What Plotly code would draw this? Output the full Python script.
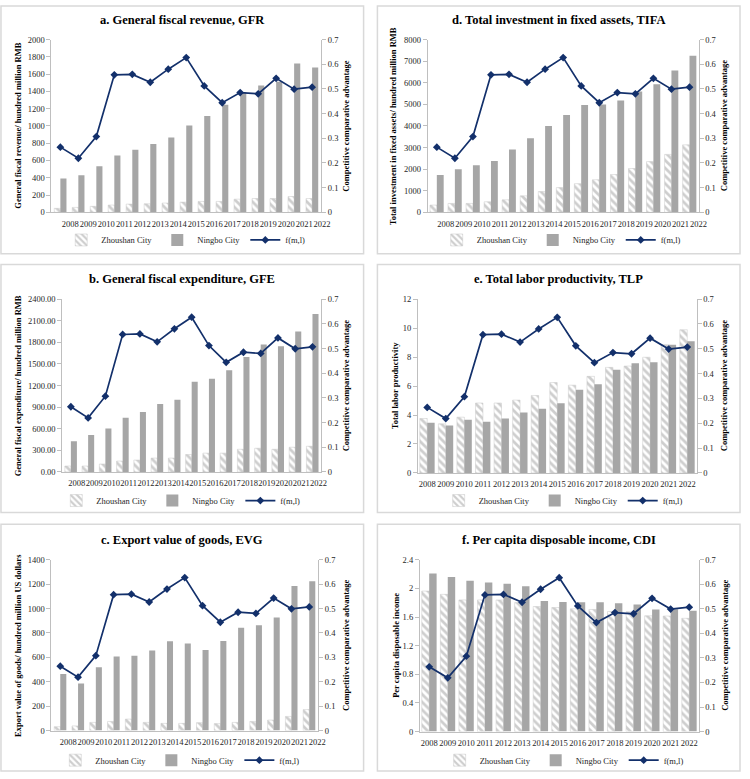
import plotly.graph_objects as go

W, H = 750, 779

years = [str(y) for y in range(2008, 2023)]
f_ml = [0.264, 0.219, 0.307, 0.557, 0.559, 0.527, 0.580, 0.627, 0.512, 0.444, 0.485, 0.480, 0.543, 0.499, 0.507]

gfr_zs = [46, 57, 69, 84, 95, 99, 107, 118, 126, 126, 152, 160, 160, 183, 160]
gfr_nb = [392, 430, 533, 659, 724, 792, 865, 1006, 1116, 1246, 1390, 1467, 1512, 1722, 1676]

gfe_zs = [82, 82, 110, 151, 165, 192, 192, 242, 261, 261, 315, 329, 315, 343, 357]
gfe_nb = [425, 512, 603, 754, 832, 942, 1001, 1253, 1294, 1413, 1595, 1769, 1746, 1952, 2194]

evg_zs = [32, 38, 67, 75, 94, 67, 59, 59, 65, 57, 67, 75, 86, 116, 172]
evg_nb = [463, 385, 520, 608, 614, 657, 732, 714, 660, 735, 843, 864, 926, 1185, 1225]

tifa_zs = [335, 411, 411, 488, 579, 762, 960, 1143, 1326, 1509, 1752, 2027, 2347, 2682, 3124]
tifa_nb = [1722, 1996, 2179, 2377, 2910, 3429, 3992, 4510, 4968, 4998, 5181, 5592, 5928, 6568, 7253]

tlp_zs = [3.76, 3.39, 3.85, 4.83, 4.83, 5.03, 5.35, 6.24, 6.06, 6.67, 7.29, 7.38, 7.99, 8.86, 9.89]
tlp_nb = [3.46, 3.28, 3.67, 3.53, 3.76, 4.17, 4.44, 4.81, 5.74, 6.13, 7.13, 7.58, 7.65, 8.86, 9.09]

cdi_zs = [1.963, 1.917, 1.839, 1.839, 1.839, 1.802, 1.747, 1.733, 1.715, 1.706, 1.678, 1.674, 1.618, 1.614, 1.582]
cdi_nb = [2.207, 2.161, 2.106, 2.083, 2.064, 2.032, 1.825, 1.811, 1.807, 1.807, 1.793, 1.775, 1.706, 1.710, 1.687]

titles = [
    "a. General fiscal revenue, GFR",
    "b. General fiscal expenditure, GFE",
    "c. Export value of goods, EVG",
    "d. Total investment in fixed assets, TIFA",
    "e. Total labor productivity, TLP",
    "f. Per capita disposable income, CDI",
]
left_titles = [
    "General fiscal revenue/ hundred million RMB",
    "General fiscal expenditure/ hundred million RMB",
    "Export value of goods/ hundred million US dollars",
    "Total investment in fixed assets/ hundred million RMB",
    "Total labor productivity",
    "Per capita disposable income",
]
right_title = "Competitive comparative advantage"
series = [(gfr_zs, gfr_nb), (gfe_zs, gfe_nb), (evg_zs, evg_nb),
          (tifa_zs, tifa_nb), (tlp_zs, tlp_nb), (cdi_zs, cdi_nb)]
y_ranges = [(2000, 200, ""), (2400, 300, ".2f"), (1400, 200, ""),
            (8000, 1000, ""), (12, 2, ""), (2.4, 0.4, "")]

# layout geometry (pixels)
plot_px = [  # x0, x1, y0(top), y1(bottom)
    (52, 325, 35, 210),
    (63, 325, 298, 473),
    (52, 322, 562, 735),
    (433, 707, 35, 210),
    (423, 705, 298, 474),
    (425, 707, 562, 736),
]
boxes = [(1, 368, 1, 252), (1, 368, 263, 514), (1, 368, 526, 776),
         (382, 749, 1, 252), (382, 749, 263, 514), (382, 749, 526, 776)]
title_y = [15, 278, 542, 15, 278, 542]
left_title_x = [18, 18, 18, 398, 400, 400]
right_title_x = [350, 350, 350, 733, 733, 733]
legend_pos = [(188, 238), (183, 502), (182, 765), (568, 238), (570, 502), (571, 765)]
label_shift = [10, 6, 8, 9, 0, 0]
bar_w = [0.34, 0.35, 0.34, 0.38, 0.4, 0.4]

FONT = "Liberation Serif, Times New Roman, serif"
AX_COL = "#bfbfbf"
TXT = "#262626"
LINE_COL = "#13306b"

fig = go.Figure()
layout = dict(
    width=W, height=H, margin=dict(l=0, r=0, t=0, b=0),
    paper_bgcolor="white", plot_bgcolor="rgba(0,0,0,0)",
    font=dict(family=FONT, size=9, color=TXT),
    barmode="overlay", showlegend=True,
)
shapes, annotations = [], []

for i in range(6):
    n = i + 1
    xa = "x" if n == 1 else f"x{n}"
    yl_idx, yr_idx = 2 * i + 1, 2 * i + 2
    yl = "y" if yl_idx == 1 else f"y{yl_idx}"
    yr = f"y{yr_idx}"
    leg = "legend" if n == 1 else f"legend{n}"
    zs, nb = series[i]
    w = bar_w[i]

    fig.add_trace(go.Bar(
        x=years, y=zs, name="Zhoushan City", xaxis=xa, yaxis=yl, legend=leg,
        width=w, offset=-w,
        marker=dict(color="white", line=dict(color="#c8c8c8", width=0.5),
                    pattern=dict(shape="\\", fgcolor="#9e9e9e", bgcolor="white",
                                 size=5.5, solidity=0.5)),
    ))
    fig.add_trace(go.Bar(
        x=years, y=nb, name="Ningbo City", xaxis=xa, yaxis=yl, legend=leg,
        width=w, offset=0,
        marker=dict(color="#a6a6a6", line=dict(width=0)),
    ))
    fig.add_trace(go.Scatter(
        x=years, y=f_ml, name="f(m,l)", xaxis=xa, yaxis=yr, legend=leg,
        mode="lines+markers",
        line=dict(color=LINE_COL, width=1.7),
        marker=dict(symbol="diamond", size=6, color=LINE_COL),
    ))

    x0, x1, t, b = plot_px[i]
    xdom = [x0 / W, x1 / W]
    ydom = [1 - b / H, 1 - t / H]
    ymax, dt, fmt = y_ranges[i]

    layout[("xaxis" if n == 1 else f"xaxis{n}")] = dict(
        domain=xdom, anchor=yl, type="category", range=[-0.5, 14.5],
        showline=True, linecolor=AX_COL, linewidth=1, ticks="",
        showgrid=False, zeroline=False, tickangle=0,
        tickfont=dict(family=FONT, size=8.5, color=TXT),
        ticklabelshift=label_shift[i], ticklabelstandoff=3,
    )
    layout[("yaxis" if yl_idx == 1 else f"yaxis{yl_idx}")] = dict(
        domain=ydom, anchor=xa, range=[0, ymax], dtick=dt, tick0=0,
        tickformat=fmt, showline=True, linecolor=AX_COL, linewidth=1,
        ticks="outside", ticklen=4, tickcolor=AX_COL,
        showgrid=False, zeroline=False,
        tickfont=dict(family=FONT, size=8.5, color=TXT),
    )
    layout[f"yaxis{yr_idx}"] = dict(
        overlaying=yl, anchor=xa, side="right", range=[0, 0.7], dtick=0.1,
        tick0=0, showline=True, linecolor=AX_COL, linewidth=1,
        ticks="outside", ticklen=4, tickcolor=AX_COL,
        showgrid=False, zeroline=False,
        tickfont=dict(family=FONT, size=8.5, color=TXT),
    )
    lx, ly = legend_pos[i]
    layout[leg] = dict(
        orientation="h", x=lx / W, y=1 - ly / H, xanchor="center", yanchor="middle",
        font=dict(family=FONT, size=8.5, color=TXT), bgcolor="rgba(0,0,0,0)",
        itemwidth=30, tracegroupgap=0,
    )

    bx0, bx1, by0, by1 = boxes[i]
    shapes.append(dict(type="rect", xref="paper", yref="paper",
                       x0=bx0 / W, x1=bx1 / W, y0=1 - by1 / H, y1=1 - by0 / H,
                       line=dict(color="#d9d9d9", width=1.5), fillcolor="rgba(0,0,0,0)",
                       layer="below"))
    annotations.append(dict(text=f"<b>{titles[i]}</b>", xref="paper", yref="paper",
                            x=(bx0 + bx1) / 2 / W, y=1 - title_y[i] / H,
                            xanchor="center", yanchor="middle", showarrow=False,
                            font=dict(family=FONT, size=12.5, color="#000000")))
    cy = 1 - (t + b) / 2 / H
    annotations.append(dict(text=f"<b>{left_titles[i]}</b>", xref="paper", yref="paper",
                            x=left_title_x[i] / W, y=cy, textangle=-90,
                            xanchor="center", yanchor="middle", showarrow=False,
                            font=dict(family=FONT, size=8.5, color="#000000")))
    annotations.append(dict(text=f"<b>{right_title}</b>", xref="paper", yref="paper",
                            x=right_title_x[i] / W, y=cy, textangle=-90,
                            xanchor="center", yanchor="middle", showarrow=False,
                            font=dict(family=FONT, size=8.5, color="#000000")))

layout["shapes"] = shapes
layout["annotations"] = annotations
fig.update_layout(**layout)
fig.write_html("out.html")
